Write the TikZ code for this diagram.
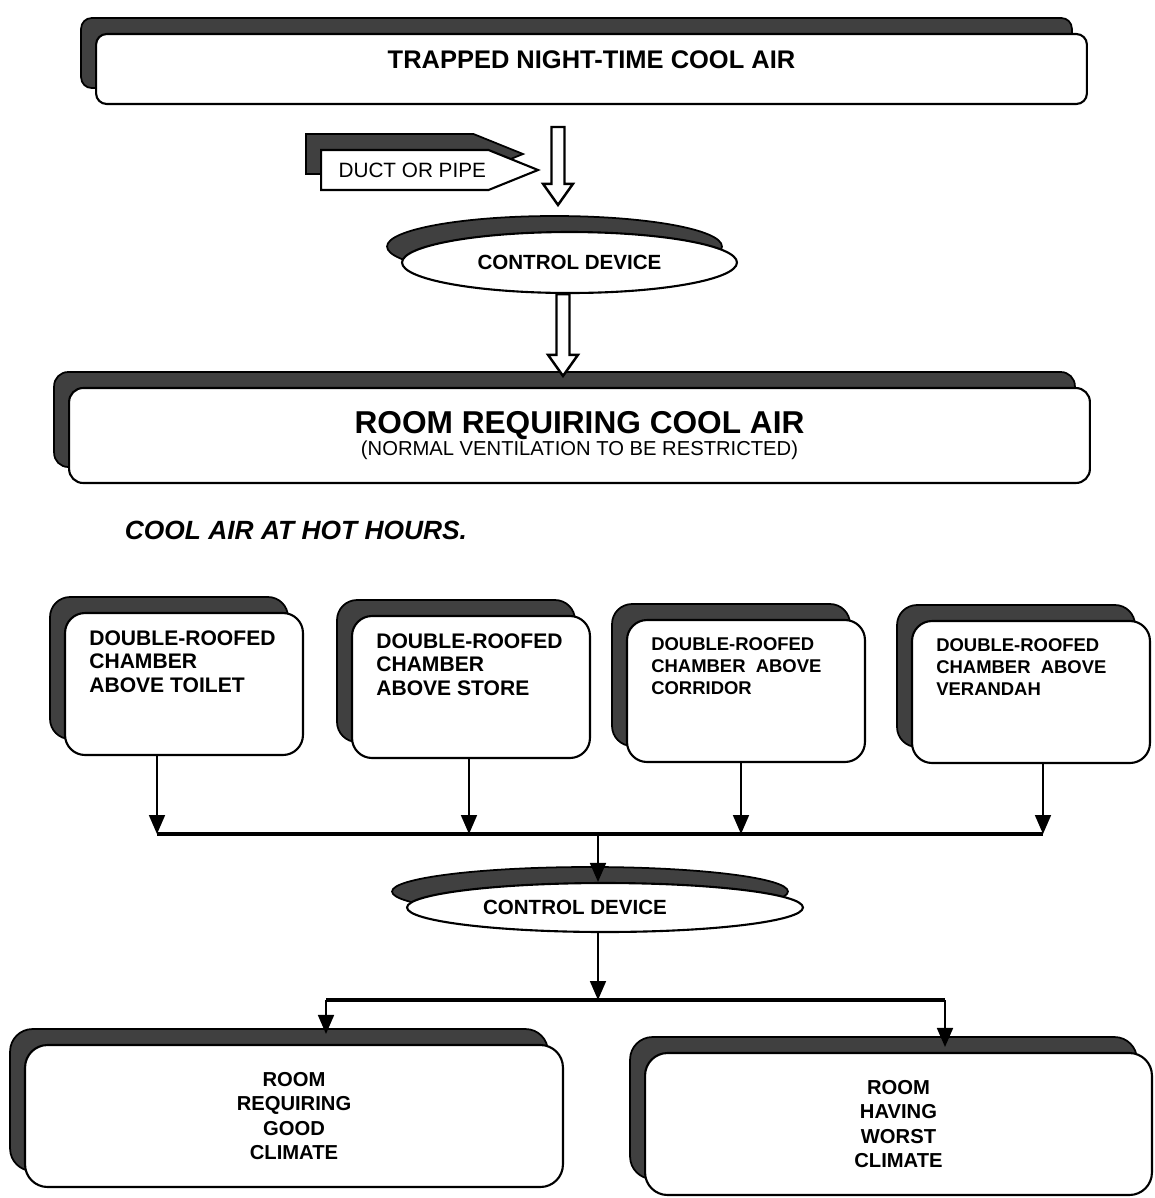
\documentclass[tikz,border=0pt]{standalone}
\usepackage{fontspec}
\setmainfont{Liberation Sans}
\usetikzlibrary{calc,arrows.meta,positioning,shadows,shapes.geometric,shapes.symbols}
\tikzset{
  shbox/.style={draw=black, line width=1.2pt, fill=white,
                copy shadow={shadow xshift=-0.3cm, shadow yshift=0.32cm,
                             fill=black!75, draw=black, line width=1pt}},
  headbox/.style={shbox, rectangle, rounded corners=6pt, minimum width=19.82cm,
                  minimum height=1.4cm, font=\fontsize{14.5}{17}\selectfont\bfseries},
  roombox/.style={shbox, rectangle, rounded corners=8pt, minimum width=20.42cm,
                  minimum height=1.9cm, align=center},
  chamber/.style={shbox, rectangle, rounded corners=0.4cm, minimum width=4.76cm,
                  minimum height=2.84cm},
  chlabel/.style={anchor=north west, align=left, inner sep=0pt,
                  xshift=0.5cm, yshift=-0.36cm},
  ctrl/.style={shbox, ellipse, inner sep=0pt, font=\fontsize{11.7}{14}\selectfont\bfseries},
  ctrltext/.style={font=\fontsize{11.7}{14}\selectfont\bfseries},
  duct/.style={shbox, signal, signal to=east, signal pointer angle=44,
               minimum width=4.34cm, minimum height=0.8cm, inner xsep=0pt, inner ysep=2pt,
               font=\fontsize{11.8}{14}\selectfont},
  outroom/.style={shbox, rectangle, rounded corners=0.45cm, minimum height=2.84cm,
                  align=center, font=\fontsize{11.5}{13.8}\selectfont\bfseries},
  flow/.style={-{Triangle[length=3.8mm,width=3.2mm]}, line width=1pt},
  busline/.style={line width=2.8pt},
  splitline/.style={line width=1.8pt},
  fatline/.style={line width=1.4pt, fill=white},
}
% hollow block arrow between two points
\newcommand{\fatarrow}[2]{%
  \draw[fatline] let \p1=(#1), \p2=(#2) in
    (\x1-3.7pt,\y1) -- (\x1-3.7pt,\y2+12pt) -- (\x1-8.5pt,\y2+12pt)
    -- (\x1,\y2) -- (\x1+8.5pt,\y2+12pt) -- (\x1+3.7pt,\y2+12pt)
    -- (\x1+3.7pt,\y1) -- cycle;}

\begin{document}
\begin{tikzpicture}[x=0.02cm, y=-0.02cm]
  \useasboundingbox (0,0) rectangle (1155,1198);

  % upper part
  \node[headbox] (trap) at (591.5,69)
    {\raisebox{0.18cm}[\height][\depth]{TRAPPED NIGHT-TIME COOL AIR}};
  \node[duct, anchor=west] (duct) at (320,170) {\hspace*{0.3cm}DUCT OR PIPE};
  \node[ctrl, minimum width=6.7cm, minimum height=1.22cm] (ctl1) at (569.5,262.5)
    {CONTROL DEVICE};
  \node[roombox] (dest) at (579.5,435.5)
    {{\fontsize{18}{20}\selectfont\bfseries ROOM REQUIRING COOL AIR}\\[0pt]
     {\fontsize{11.5}{13}\selectfont (NORMAL VENTILATION TO BE RESTRICTED)}};

  \coordinate (fa) at (558,127);
  \coordinate (fb) at (563,0);
  \fatarrow{fa}{$(fa |- ctl1.north)+(0,-26)$}
  \fatarrow{ctl1.south -| fb}{$(fb |- dest.north)+(0,-11)$}

  \node[font=\fontsize{15}{18}\selectfont\bfseries\itshape] (hot) at (296,530)
    {COOL AIR AT HOT HOURS.};

  % chambers
  \foreach \n/\cx/\cy/\ax/\fs/\bs/\txt in {
      1/184/684/157/12/13.4/{DOUBLE-ROOFED\\CHAMBER\\ABOVE TOILET},
      2/471/687/469/12/13.4/{DOUBLE-ROOFED\\CHAMBER\\ABOVE STORE},
      3/746/691/741/10.5/12.5/{DOUBLE-ROOFED\\CHAMBER\ \ ABOVE\\CORRIDOR},
      4/1031/692/1043/10.5/12.5/{DOUBLE-ROOFED\\CHAMBER\ \ ABOVE\\VERANDAH}} {
    \node[chamber, label={[chlabel, font=\fontsize{\fs}{\bs}\selectfont\bfseries]north west:\txt}]
      (c\n) at (\cx,\cy) {};
    \coordinate (b\n) at (\ax,834);
    \draw[flow] (c\n.south -| b\n) -- (b\n);
  }
  \draw[busline] (b1) -- (b4);

  % lower part
  \node[ctrl, minimum width=7.92cm, minimum height=0.98cm,
        label={[ctrltext, xshift=-0.6cm]center:CONTROL DEVICE}] (ctl2) at (605,907.5) {};
  \coordinate (bm) at (598,834);
  \draw[flow] (bm) -- (bm |- ctl2.north);

  \node[outroom, minimum width=10.76cm] (good) at (294,1116)
    {ROOM\\REQUIRING\\GOOD\\CLIMATE};
  \node[outroom, minimum width=10.14cm] (worst) at (898.5,1124)
    {ROOM\\HAVING\\WORST\\CLIMATE};

  \coordinate (sp) at (598,1000);
  \coordinate (sl) at (326,1000);
  \coordinate (sr) at (945,1000);
  \draw[flow] (ctl2.south -| sp) -- (sp);
  \draw[splitline] (sl) -- (sr);
  \draw[flow, shorten >=0.2cm] (sl) -- (sl |- good.north);
  \draw[flow, shorten >=0.1cm] (sr) -- (sr |- worst.north);
\end{tikzpicture}
\end{document}
